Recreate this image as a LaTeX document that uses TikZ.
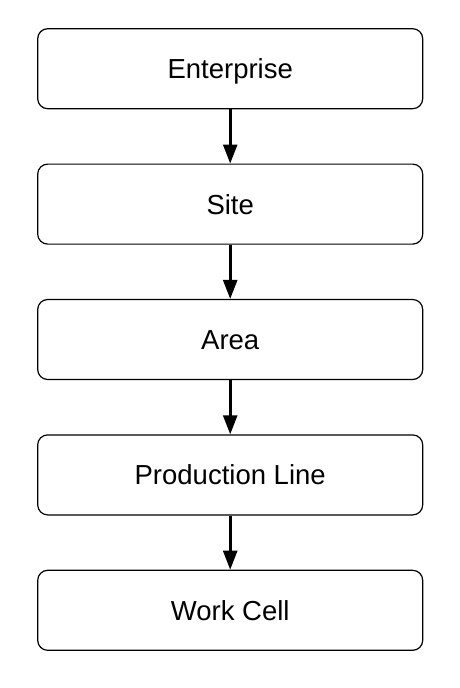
\documentclass[tikz,border=0pt]{standalone}
\usepackage{fontspec}
\setmainfont{Liberation Sans}
\usetikzlibrary{positioning,arrows.meta}
\tikzset{
    level/.style={draw,line width=1.2pt,rounded corners=10pt,minimum width=385pt,minimum height=80pt,text height=20pt,text depth=0pt,font=\fontsize{27.5}{33}\selectfont},
    down/.style={line width=2.6pt,-{Triangle[length=19pt,width=14pt]}}
}
\begin{document}
\begin{tikzpicture}[x=1pt,y=1pt]
    \useasboundingbox (0,0) rectangle (460,-688);
    % Hierarchy levels
    \node[level] (enterprise) at (230.2,-68.7) {Enterprise};
    \node[level,below=54.2pt of enterprise] (site) {Site};
    \node[level,below=54.2pt of site] (area) {Area};
    \node[level,below=54.2pt of area] (line) {Production Line};
    \node[level,below=54.2pt of line] (cell) {Work Cell};
    % Arrows between levels
    \draw[down] (enterprise) -- (site);
    \draw[down] (site) -- (area);
    \draw[down] (area) -- (line);
    \draw[down] (line) -- (cell);
\end{tikzpicture}
\end{document}
